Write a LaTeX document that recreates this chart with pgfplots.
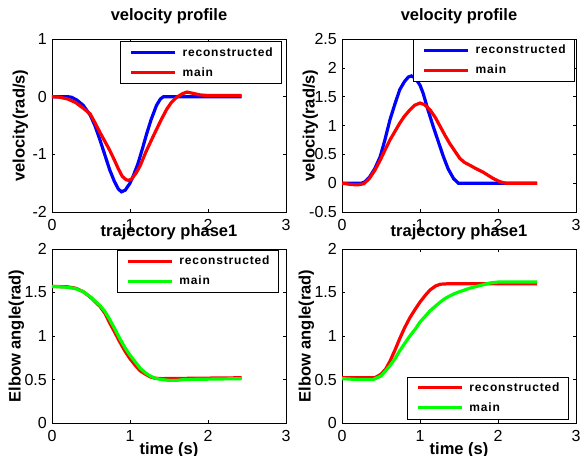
\documentclass[border=0pt]{standalone}
\usepackage{fontspec}
\setmainfont{Liberation Sans}
\newfontfamily\legfont[LetterSpace=7]{Liberation Sans}
\usepackage{pgfplots}
\pgfplotsset{compat=1.18}

\pgfplotsset{
  mlab/.style={
    scale only axis, width=234pt,
    xmin=0, xmax=3, xtick={0,1,2,3}, xticklabels={0,1,2,3},
    tick align=inside, major tick length=3pt,
    tick style={black, line width=0.6pt},
    axis line style={black, line width=0.8pt},
    tick label style={font=\fontsize{16}{18}\selectfont, inner sep=0pt},
    xticklabel style={anchor=north, yshift=-7pt},
    yticklabel style={anchor=east, xshift=-5pt},
    title style={font=\bfseries\fontsize{16.5}{19}\selectfont, anchor=base},
    label style={font=\bfseries\fontsize{16.5}{19}\selectfont},
    legend style={draw=black, line width=0.8pt, fill=white,
      font=\legfont\bfseries\fontsize{12}{14}\selectfont,
      inner xsep=9pt, inner ysep=1pt, row sep=0pt,
      nodes={inner xsep=0pt, inner ysep=0pt, minimum height=20pt},
      /tikz/every odd column/.style={column sep=6pt}},
    legend cell align=left,
    legend image code/.code={\draw[#1, line width=3pt] (0pt,0pt) -- (44pt,0pt);},
  },
  crv/.style={line width=3.2pt, no markers},
}

\begin{document}
\begin{tikzpicture}
\useasboundingbox (0,0) rectangle (580pt,455pt);

% top left
\begin{axis}[mlab, at={(52pt,243pt)}, anchor=south west, height=173pt,
    ymin=-2, ymax=1, ytick={-2,-1,0,1}, yticklabels={-2,-1,0,1},
    title={velocity profile}, title style={at={(axis description cs:0.5,1.075)}},
    ylabel={velocity(rad/s)},
    ylabel style={at={(axis description cs:-0.1175,0.5)}, anchor=base},
    legend style={at={(0.983,0.988)}, anchor=north east}]
  \addplot[crv, color=blue] coordinates {(0,0) (0.2,0) (0.25,-0.01) (0.32,-0.06)
    (0.4,-0.15) (0.49,-0.32) (0.55,-0.5) (0.615,-0.75) (0.68,-1.02) (0.74,-1.27)
    (0.8,-1.47) (0.85,-1.6) (0.89,-1.65) (0.94,-1.62) (1.0,-1.5) (1.04,-1.38)
    (1.1,-1.17) (1.16,-0.9) (1.21,-0.66) (1.27,-0.4) (1.34,-0.15) (1.39,-0.04)
    (1.43,0) (2.43,0)};
  \addplot[crv, color=red] coordinates {(0,0) (0.1,-0.01) (0.2,-0.04) (0.3,-0.1)
    (0.4,-0.2) (0.49,-0.3) (0.55,-0.45) (0.615,-0.62) (0.68,-0.78) (0.74,-0.93)
    (0.8,-1.1) (0.85,-1.25) (0.9,-1.38) (0.95,-1.44) (0.98,-1.45) (1.02,-1.43)
    (1.08,-1.32) (1.13,-1.2) (1.2,-0.97) (1.3,-0.68) (1.4,-0.4) (1.47,-0.22)
    (1.53,-0.1) (1.6,-0.01) (1.67,0.05) (1.73,0.08) (1.8,0.06) (1.9,0.03)
    (2.0,0.02) (2.43,0.02)};
  \legend{reconstructed, main}
\end{axis}

% top right
\begin{axis}[mlab, at={(342pt,243pt)}, anchor=south west, height=173pt,
    ymin=-0.5, ymax=2.5, ytick={-0.5,0,0.5,1,1.5,2,2.5},
    yticklabels={-0.5,0,0.5,1,1.5,2,2.5},
    title={velocity profile}, title style={at={(axis description cs:0.5,1.075)}},
    ylabel={velocity(rad/s)},
    ylabel style={at={(axis description cs:-0.1175,0.5)}, anchor=base},
    legend style={at={(0.996,1)}, anchor=north east}]
  \addplot[crv, color=blue] coordinates {(0,0) (0.25,0) (0.29,0.02) (0.35,0.1)
    (0.42,0.25) (0.49,0.46) (0.55,0.75) (0.615,1.1) (0.68,1.38) (0.74,1.62)
    (0.8,1.76) (0.85,1.84) (0.89,1.86) (0.94,1.82) (1.0,1.7) (1.04,1.56)
    (1.1,1.28) (1.17,0.98) (1.24,0.7) (1.3,0.46) (1.36,0.25) (1.43,0.08)
    (1.49,0) (2.5,0)};
  \addplot[crv, color=red] coordinates {(0,0) (0.1,-0.02) (0.2,-0.03) (0.28,-0.01)
    (0.35,0.08) (0.42,0.22) (0.49,0.4) (0.55,0.57) (0.615,0.75) (0.68,0.9)
    (0.74,1.04) (0.8,1.16) (0.87,1.27) (0.93,1.35) (1.0,1.39) (1.06,1.36)
    (1.13,1.27) (1.2,1.13) (1.26,0.98) (1.32,0.83) (1.38,0.69) (1.45,0.55)
    (1.51,0.43) (1.57,0.36) (1.64,0.31) (1.72,0.25) (1.81,0.19) (1.88,0.13)
    (1.94,0.08) (2.0,0.04) (2.06,0.01) (2.1,0) (2.5,0)};
  \legend{reconstructed, main}
\end{axis}

% bottom left
\begin{axis}[mlab, at={(52pt,32pt)}, anchor=south west, height=174pt,
    ymin=0, ymax=2, ytick={0,0.5,1,1.5,2}, yticklabels={0,0.5,1,1.5,2},
    title={trajectory phase1}, title style={at={(axis description cs:0.5,1.0345)}},
    ylabel={Elbow angle(rad)},
    ylabel style={at={(axis description cs:-0.1346,0.5)}, anchor=base},
    xlabel={time (s)},
    xlabel style={at={(axis description cs:0.5,-0.18)}, anchor=base},
    legend style={at={(0.97,0.996)}, anchor=north east}]
  \addplot[crv, color=red] coordinates {(0,1.57) (0.2,1.565) (0.3,1.55) (0.4,1.51)
    (0.5,1.44) (0.615,1.34) (0.68,1.26) (0.74,1.15) (0.8,1.05) (0.87,0.93)
    (0.94,0.82) (1.0,0.74) (1.07,0.66) (1.13,0.6) (1.2,0.56) (1.26,0.53)
    (1.32,0.515) (1.4,0.51) (2.43,0.52)};
  \addplot[crv, color=green] coordinates {(0,1.57) (0.2,1.56) (0.3,1.545) (0.4,1.51)
    (0.5,1.445) (0.615,1.35) (0.68,1.28) (0.74,1.19) (0.8,1.09) (0.87,0.97)
    (0.94,0.86) (1.0,0.78) (1.07,0.7) (1.13,0.63) (1.2,0.575) (1.26,0.54)
    (1.32,0.515) (1.4,0.5) (1.5,0.49) (1.6,0.49) (1.7,0.5) (2.43,0.51)};
  \legend{reconstructed, main}
\end{axis}

% bottom right
\begin{axis}[mlab, at={(342pt,32pt)}, anchor=south west, height=174pt,
    ymin=0, ymax=2, ytick={0,0.5,1,1.5,2}, yticklabels={0,0.5,1,1.5,2},
    title={trajectory phase1}, title style={at={(axis description cs:0.5,1.0345)}},
    ylabel={Elbow angle(rad)},
    ylabel style={at={(axis description cs:-0.1346,0.5)}, anchor=base},
    xlabel={time (s)},
    xlabel style={at={(axis description cs:0.5,-0.18)}, anchor=base},
    legend style={at={(0.97,0.021)}, anchor=south east}]
  \addplot[crv, color=red] coordinates {(0,0.52) (0.3,0.52) (0.42,0.52) (0.5,0.56)
    (0.56,0.62) (0.615,0.71) (0.68,0.84) (0.74,0.97) (0.8,1.09) (0.87,1.21)
    (0.94,1.31) (1.0,1.39) (1.07,1.47) (1.13,1.53) (1.2,1.575) (1.26,1.595)
    (1.35,1.6) (2.5,1.6)};
  \addplot[crv, color=green] coordinates {(0,0.51) (0.2,0.5) (0.4,0.5) (0.5,0.54)
    (0.56,0.6) (0.615,0.66) (0.68,0.74) (0.74,0.83) (0.8,0.91) (0.87,1.0)
    (0.94,1.08) (1.0,1.16) (1.07,1.23) (1.13,1.29) (1.2,1.345) (1.26,1.39)
    (1.32,1.43) (1.38,1.46) (1.45,1.49) (1.51,1.51) (1.64,1.55) (1.77,1.58)
    (1.9,1.61) (2.0,1.62) (2.5,1.62)};
  \legend{reconstructed, main}
\end{axis}
\end{tikzpicture}
\end{document}
